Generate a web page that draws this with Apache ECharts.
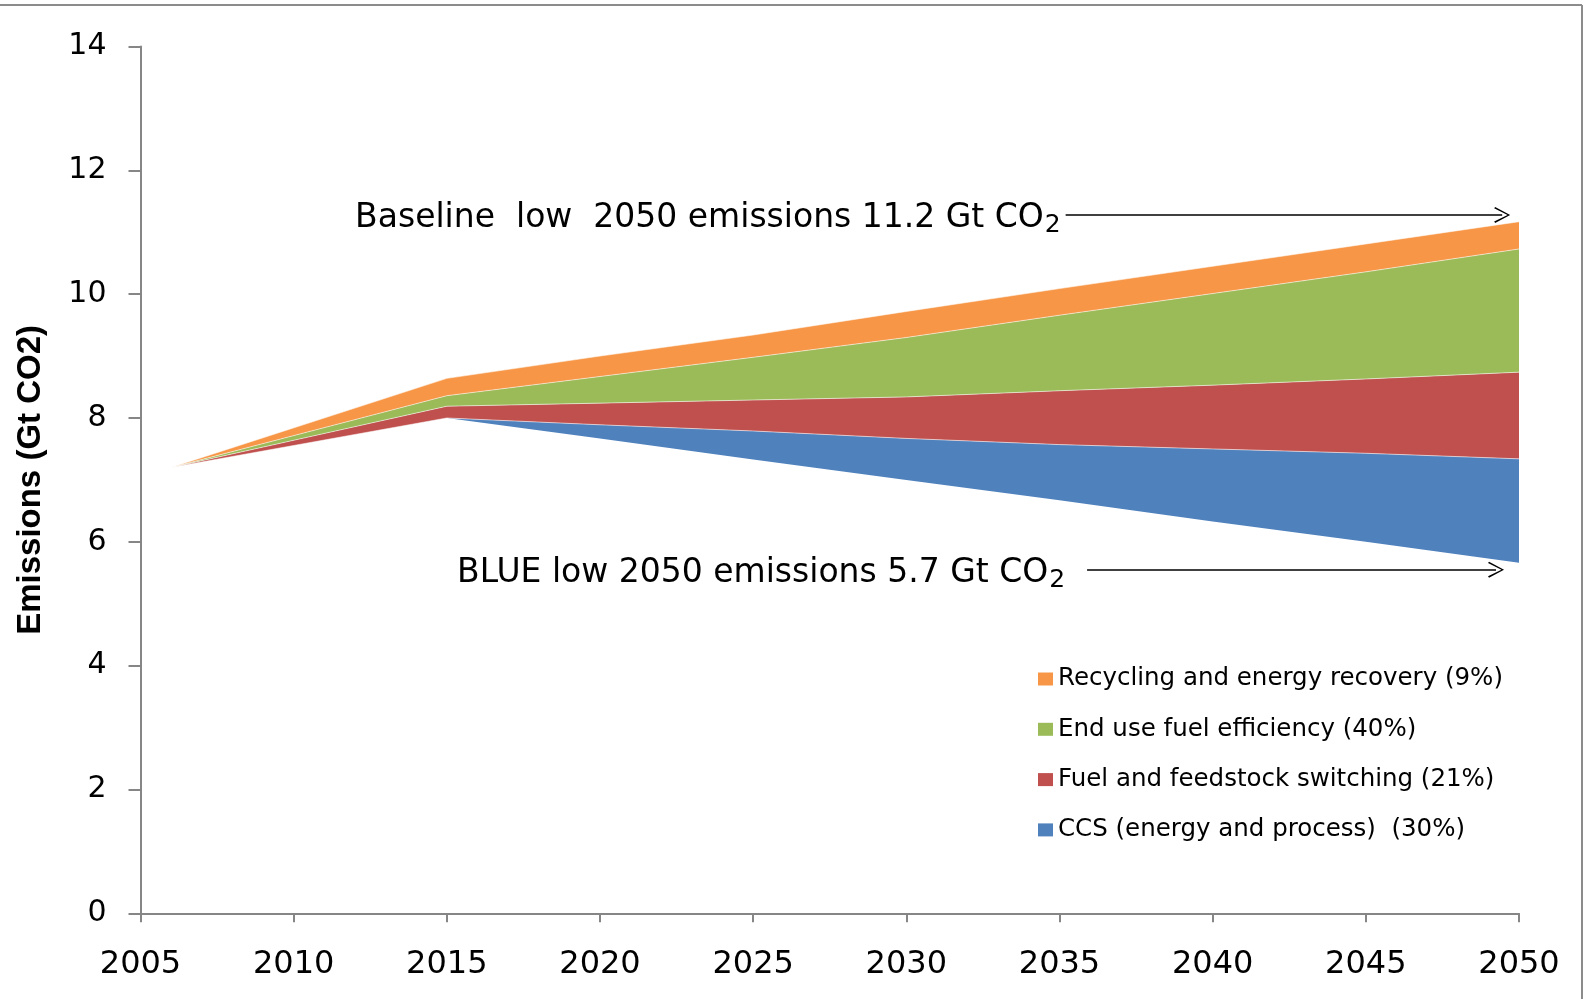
<!DOCTYPE html>
<html>
<head>
<meta charset="utf-8">
<script src="https://cdn.jsdelivr.net/npm/echarts@6/dist/echarts.min.js"></script>
<style>
html,body{margin:0;padding:0;background:#fff;}
#chart{width:1587px;height:999px;}
</style>
</head>
<body>
<div id="chart"></div>
<script>
// ---- data ----
const years = [2006, 2015, 2020, 2025, 2030, 2035, 2040, 2045, 2050];
const blueLow = [7.20, 8.00, 7.67, 7.33, 7.00, 6.67, 6.33, 6.00, 5.66];
const ccs = [0, 0, 0.22, 0.46, 0.67, 0.90, 1.17, 1.43, 1.68];
const fuelSwitching = [0, 0.19, 0.35, 0.50, 0.67, 0.87, 1.03, 1.20, 1.40];
const endUseEfficiency = [0, 0.17, 0.43, 0.69, 0.96, 1.22, 1.48, 1.73, 1.99];
const recycling = [0, 0.28, 0.33, 0.36, 0.42, 0.43, 0.44, 0.45, 0.44];
const seriesNames = [
  'CCS (energy and process)  (30%)',
  'Fuel and feedstock switching (21%)',
  'End use fuel efficiency (40%)',
  'Recycling and energy recovery (9%)'
];
const legendOrder = [seriesNames[3], seriesNames[2], seriesNames[1], seriesNames[0]];
const yAxisTitle = 'Emissions (Gt CO2)';
const baselineNote = 'Baseline  low  2050 emissions 11.2 Gt CO';
const blueNote = 'BLUE low 2050 emissions 5.7 Gt CO';
const baselineArrow = [[2035.2, 11.28], [2049.45, 11.28]];
const blueArrow = [[2035.9, 5.55], [2049.25, 5.55]];

// value first, year second so that the library stacks the value dimension
const pairs = arr => years.map((y, i) => [arr[i], y]);
const colors = ['#4F81BD', '#C0504D', '#9BBB59', '#F79646'];
const chevron = 'path://M8,0 L16,15 L14.6,16 L8,2.6 L1.4,16 L0,15 Z';
const noteRich = {
  t: { fontSize: 33, fontFamily: 'DejaVu Sans', color: '#000', padding: [8, 0, 0, 0] },
  s: { fontSize: 25, fontFamily: 'DejaVu Sans', color: '#000', padding: [22, 0, 0, 1] }
};

function areaSeries(name, arr, color) {
  return {
    name: name, type: 'line', stack: 'total', data: pairs(arr),
    encode: { x: 1, y: 0 },
    symbol: 'none', showSymbol: false, smooth: false,
    color: color,
    itemStyle: { color: color },
    lineStyle: { width: 1, color: 'rgba(255,255,255,0.55)' },
    areaStyle: { color: color, opacity: 1 },
    emphasis: { disabled: true }, z: 2
  };
}

const chart = echarts.init(document.getElementById('chart'), null, { renderer: 'canvas' });
chart.setOption({
  animation: false,
  backgroundColor: '#fff',
  grid: { left: 140.5, right: 68, top: 46.5, bottom: 85.7, containLabel: false },
  xAxis: {
    type: 'value', min: 2005, max: 2050, interval: 5,
    axisLine: { show: true, lineStyle: { color: '#868686', width: 2 } },
    axisTick: { show: true, length: 9, lineStyle: { color: '#868686', width: 2 } },
    axisLabel: { fontSize: 32, fontFamily: 'DejaVu Sans', color: '#000', margin: 35,
      showMinLabel: true, showMaxLabel: true, formatter: v => String(v) },
    splitLine: { show: false }
  },
  yAxis: {
    type: 'value', min: 0, max: 14, interval: 2,
    name: yAxisTitle, nameLocation: 'middle', nameGap: 93,
    nameTextStyle: { fontSize: 33, fontWeight: 'bold', fontFamily: 'Liberation Sans', color: '#000' },
    axisLine: { show: true, lineStyle: { color: '#868686', width: 2 } },
    axisTick: { show: true, length: 12, lineStyle: { color: '#868686', width: 2 } },
    axisLabel: { fontSize: 30, fontFamily: 'DejaVu Sans', color: '#000', margin: 34 },
    splitLine: { show: false }
  },
  legend: {
    data: legendOrder, orient: 'vertical', left: 1033, top: 661,
    icon: 'rect', itemWidth: 15, itemHeight: 13, itemGap: 24.3,
    textStyle: { fontSize: 24.5, fontFamily: 'DejaVu Sans', color: '#000', lineHeight: 26 },
    selectedMode: false
  },
  series: [
    {
      name: 'BLUE low', type: 'line', stack: 'total', data: pairs(blueLow),
      encode: { x: 1, y: 0 },
      symbol: 'none', showSymbol: false, lineStyle: { opacity: 0 },
      emphasis: { disabled: true }, z: 1
    },
    areaSeries(seriesNames[0], ccs, colors[0]),
    areaSeries(seriesNames[1], fuelSwitching, colors[1]),
    areaSeries(seriesNames[2], endUseEfficiency, colors[2]),
    areaSeries(seriesNames[3], recycling, colors[3]),
    {
      name: 'notes', type: 'line', data: [], symbol: 'none', z: 5,
      markLine: {
        silent: true, animation: false,
        symbol: ['none', chevron], symbolSize: 16,
        lineStyle: { color: '#000', width: 1.5, type: 'solid' },
        emphasis: { disabled: true },
        label: { show: true, position: 'start', rich: noteRich },
        data: [
          [ { coord: baselineArrow[0], label: { formatter: '{t|' + baselineNote + '}{s|2}', distance: 5 } },
            { coord: baselineArrow[1] } ],
          [ { coord: blueArrow[0], label: { formatter: '{t|' + blueNote + '}{s|2}', distance: 22 } },
            { coord: blueArrow[1] } ]
        ]
      }
    }
  ],
  graphic: [
    { type: 'line', silent: true, shape: { x1: 0, y1: 5, x2: 1582, y2: 5 }, style: { stroke: '#8c8c8c', lineWidth: 2 } },
    { type: 'line', silent: true, shape: { x1: 1582, y1: 5, x2: 1582, y2: 999 }, style: { stroke: '#8c8c8c', lineWidth: 2 } }
  ]
});
</script>
</body>
</html>
